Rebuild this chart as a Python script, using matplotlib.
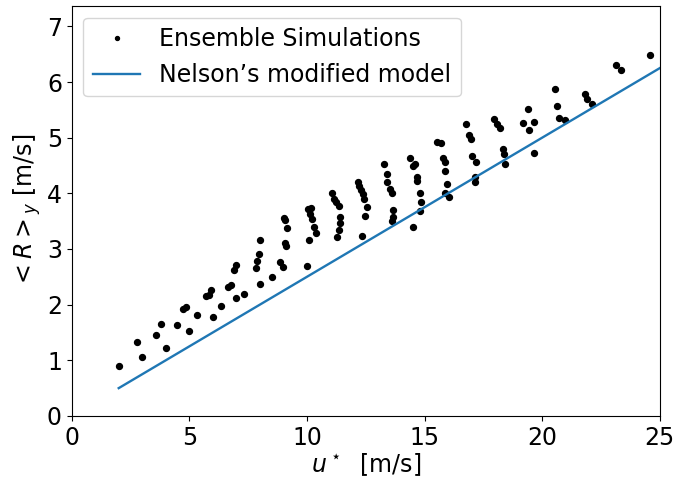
import numpy as np
import matplotlib
matplotlib.use("Agg")
import matplotlib.pyplot as plt


# ensemble simulation results
u_star = [2.00, 2.76, 2.99, 3.58, 3.80, 3.99, 4.48, 5.00, 4.74, 4.87,
          5.34, 5.71, 5.85, 5.91, 5.99, 6.33, 6.64, 6.78, 6.91, 6.97,
          7.00, 7.34, 7.83, 7.89, 7.96, 8.00, 8.00, 8.53, 8.87, 8.99,
          9.04, 9.09, 9.14, 9.06, 9.11, 10.01, 10.10, 10.06, 10.17, 10.13,
          10.23, 10.30, 10.37, 11.06, 11.15, 11.23, 11.36, 11.40, 11.39, 11.37,
          11.29, 12.17, 12.22, 12.28, 12.37, 12.42, 12.54, 12.48, 12.35, 13.27,
          13.41, 13.39, 13.53, 13.63, 13.65, 13.64, 13.63, 14.38, 14.49, 14.60,
          14.66, 14.70, 14.80, 14.83, 14.80, 14.49, 15.54, 15.72, 15.79, 15.86,
          15.86, 15.94, 15.89, 16.05, 16.76, 16.88, 16.98, 17.02, 17.18, 17.14,
          17.13, 17.95, 18.09, 18.20, 18.34, 18.37, 18.44, 19.38, 19.19, 19.65,
          19.45, 19.66, 20.54, 20.63, 20.72, 20.95, 21.84, 21.91, 22.12, 23.12,
          23.34, 24.58]
R_y = [0.90, 1.33, 1.06, 1.46, 1.65, 1.23, 1.63, 1.52, 1.93, 1.96,
       1.82, 2.16, 2.18, 2.26, 1.78, 1.97, 2.32, 2.35, 2.62, 2.71,
       2.12, 2.20, 2.66, 2.78, 2.91, 3.17, 2.37, 2.49, 2.76, 2.67,
       3.56, 3.52, 3.38, 3.10, 3.06, 2.69, 3.16, 3.71, 3.73, 3.63,
       3.54, 3.40, 3.28, 4.01, 3.89, 3.85, 3.78, 3.57, 3.46, 3.35,
       3.21, 4.21, 4.14, 4.06, 3.99, 3.89, 3.75, 3.59, 3.23, 4.52,
       4.34, 4.21, 4.07, 4.01, 3.70, 3.58, 3.50, 4.64, 4.49, 4.52,
       4.30, 4.22, 4.01, 3.85, 3.69, 3.40, 4.93, 4.90, 4.63, 4.57,
       4.40, 4.16, 4.01, 3.93, 5.24, 5.04, 4.97, 4.67, 4.57, 4.30,
       4.21, 5.34, 5.24, 5.17, 4.79, 4.70, 4.52, 5.51, 5.27, 5.28,
       5.13, 4.73, 5.88, 5.57, 5.36, 5.31, 5.78, 5.70, 5.60, 6.30,
       6.22, 6.48]

# Nelson's modified model
u_model = np.array([2, 25])
R_model = 0.25 * u_model

fig = plt.figure(figsize=(6.76, 4.82), dpi=100)
ax = fig.add_axes([0.106, 0.137, 0.870, 0.851])

ax.plot(u_star, R_y, 'k.', markersize=8.5, label='Ensemble Simulations')
ax.plot(u_model, R_model, color='C0', linewidth=1.7, label='Nelson\u2019s modified model')

ax.set_xlim(0, 25)
ax.set_ylim(0, 7.37)
ax.set_xticks([0, 5, 10, 15, 20, 25])
ax.set_yticks([0, 1, 2, 3, 4, 5, 6, 7])
ax.tick_params(labelsize=17)
ax.set_xlabel(r'$u^\star$  [m/s]', fontsize=17, labelpad=1)
ax.set_ylabel(r'$<R>_y$ [m/s]', fontsize=17, labelpad=3)
ax.legend(loc='upper left', fontsize=17, markerscale=0.67)

fig.savefig('out.png', dpi=100)
plt.close()
